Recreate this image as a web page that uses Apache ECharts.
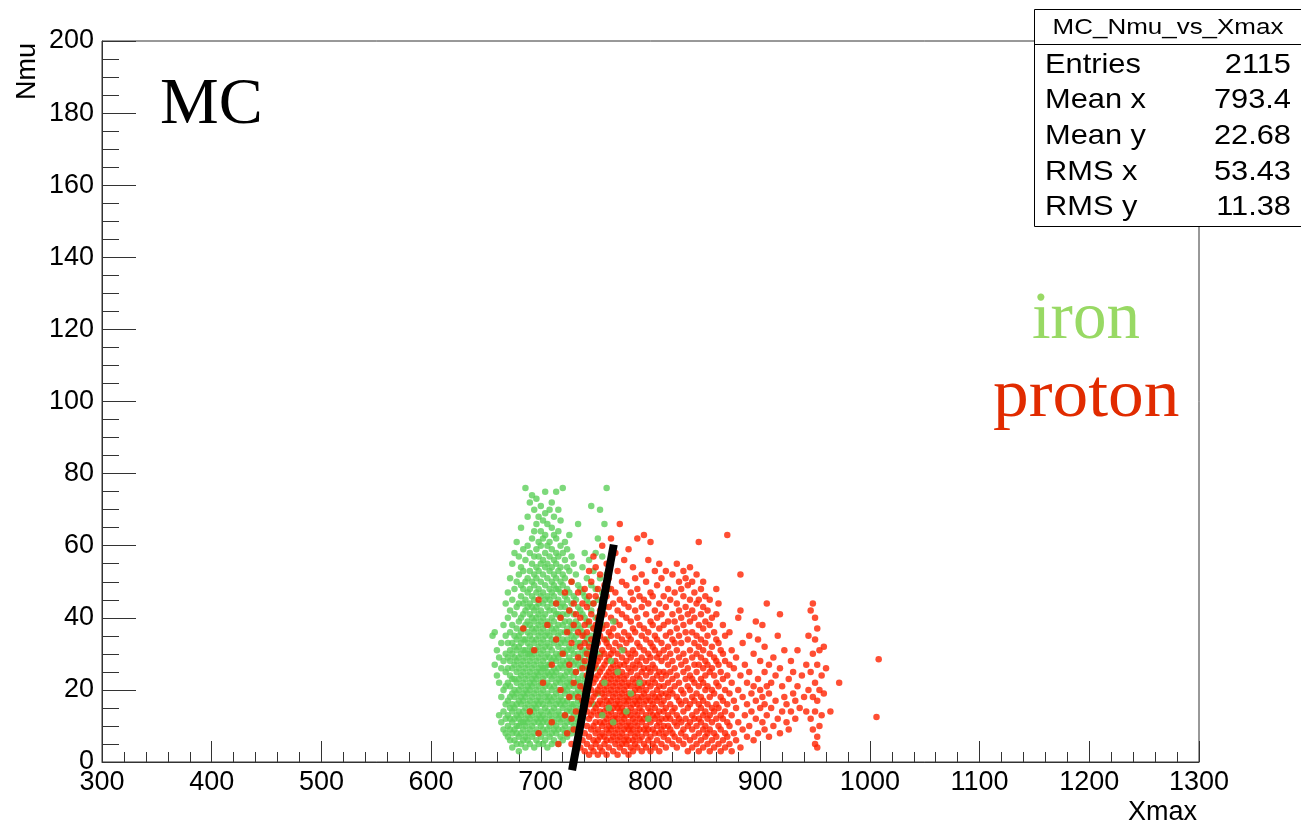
<!DOCTYPE html>
<html>
<head>
<meta charset="utf-8">
<title>MC_Nmu_vs_Xmax</title>
<script src="https://cdn.jsdelivr.net/npm/echarts@6/dist/echarts.min.js"></script>
<style>
  html, body { margin: 0; padding: 0; background: #fff; }
  #chart { width: 1301px; height: 827px; }
</style>
</head>
<body>
<div id="chart"></div>
<script>
// Axis ranges and tick steps
const xRange = [300, 1300];
const xStep = 100;
const yRange = [0, 200];
const yStep = 20;

// Iron showers: columns of [Xmax, [Nmu values...]]
const ironColumns = [
  [656, [35]], [658, [27, 36]], [660, [24, 31]], [662, [13, 22, 29]],
  [664, [11, 18, 26, 33]], [666, [9, 14, 20, 28, 38]],
  [668, [8, 12, 16, 21, 25, 30, 35, 44]],
  [670, [7, 10, 13, 17, 22, 26, 29, 33, 40, 47]],
  [672, [6, 9, 12, 15, 18, 21, 24, 28, 31, 36, 42, 51]],
  [674, [4, 8, 11, 14, 16, 19, 23, 26, 30, 33, 38, 45, 55]],
  [676, [6, 9, 12, 15, 18, 20, 23, 27, 29, 32, 35, 41, 48, 58]],
  [678, [5, 8, 10, 13, 16, 19, 22, 25, 28, 31, 34, 37, 43, 50, 61]],
  [680, [3, 7, 10, 12, 14, 17, 20, 23, 26, 29, 32, 35, 39, 44, 52, 57]],
  [682, [5, 8, 11, 13, 16, 18, 21, 24, 27, 30, 33, 36, 40, 46, 49, 54, 65]],
  [684, [6, 9, 11, 14, 17, 19, 22, 25, 28, 31, 34, 37, 41, 44, 48, 53, 59]],
  [686, [4, 7, 10, 12, 15, 18, 20, 23, 26, 29, 31, 34, 38, 42, 45, 50, 56, 76]],
  [688, [6, 8, 11, 13, 16, 19, 21, 24, 27, 30, 33, 36, 39, 43, 47, 51, 60, 68]],
  [690, [5, 9, 12, 14, 17, 20, 22, 25, 28, 30, 32, 35, 38, 41, 44, 48, 53, 58, 72]],
  [692, [7, 10, 13, 15, 18, 21, 23, 26, 29, 31, 34, 37, 40, 43, 46, 50, 55, 62, 74]],
  [694, [4, 8, 11, 14, 16, 19, 22, 24, 27, 30, 33, 36, 39, 42, 45, 49, 52, 57, 64, 70]],
  [696, [6, 9, 12, 15, 17, 20, 23, 25, 28, 31, 34, 37, 40, 43, 47, 51, 54, 59, 66, 73]],
  [698, [5, 8, 11, 13, 16, 18, 21, 24, 26, 29, 32, 35, 38, 41, 44, 48, 53, 57, 61, 68]],
  [700, [7, 10, 12, 14, 17, 19, 22, 25, 27, 30, 33, 36, 39, 42, 46, 50, 55, 60, 64, 71]],
  [702, [5, 9, 11, 13, 16, 20, 23, 26, 28, 31, 34, 37, 40, 44, 47, 52, 56, 62, 67]],
  [704, [6, 8, 12, 15, 18, 21, 24, 26, 29, 32, 35, 38, 41, 45, 49, 54, 58, 63, 69, 75]],
  [706, [4, 9, 11, 14, 17, 19, 22, 25, 27, 30, 33, 36, 39, 43, 46, 51, 55, 60, 66]],
  [708, [7, 10, 13, 16, 18, 21, 24, 27, 29, 32, 35, 38, 42, 45, 48, 53, 57, 61, 70]],
  [710, [5, 8, 12, 14, 17, 20, 23, 25, 28, 31, 34, 37, 40, 44, 47, 50, 54, 59, 65, 72]],
  [712, [6, 9, 11, 15, 18, 21, 24, 26, 29, 33, 36, 39, 42, 46, 49, 52, 56, 63, 68]],
  [714, [8, 10, 13, 16, 19, 22, 25, 28, 30, 34, 37, 41, 44, 48, 51, 55, 58, 62, 75]],
  [716, [5, 9, 12, 14, 17, 20, 23, 26, 29, 32, 35, 38, 41, 45, 48, 53, 57, 64, 70]],
  [718, [7, 11, 13, 16, 18, 22, 24, 27, 30, 33, 36, 40, 43, 47, 50, 54, 60, 67]],
  [720, [6, 9, 12, 15, 17, 20, 23, 26, 28, 31, 34, 38, 41, 44, 49, 52, 58, 76]],
  [722, [8, 10, 13, 16, 19, 21, 24, 27, 30, 33, 36, 39, 43, 46, 51, 56, 61]],
  [724, [7, 11, 14, 17, 20, 22, 25, 28, 31, 34, 37, 41, 45, 48, 54, 59]],
  [726, [9, 12, 15, 18, 21, 23, 26, 29, 32, 36, 39, 42, 47, 53, 63]],
  [728, [8, 11, 14, 16, 19, 22, 25, 28, 31, 35, 38, 44, 50, 57]],
  [730, [10, 13, 16, 18, 21, 24, 27, 30, 34, 37, 41, 46, 55]],
  [732, [9, 12, 15, 19, 22, 25, 28, 32, 35, 39, 45, 52]],
  [734, [11, 14, 17, 20, 23, 27, 30, 33, 38, 43, 49, 66]],
  [736, [13, 16, 19, 22, 26, 29, 33, 37, 42, 48]],
  [738, [12, 17, 21, 24, 28, 31, 36, 41, 47, 54]],
  [740, [15, 19, 23, 27, 30, 35, 40, 46, 58]],
  [742, [18, 22, 26, 31, 34, 39, 45, 51]],
  [744, [21, 25, 29, 33, 38, 44, 56]],
  [746, [24, 30, 35, 42, 49, 71]],
  [748, [16, 28, 37, 44, 53]],
  [750, [26, 33, 40, 48, 58]],
  [752, [19, 36, 45, 62]],
  [754, [30, 41, 51, 70]],
  [756, [38, 47, 57]],
  [758, [43, 66]],
  [760, [34, 52, 76]],
  [762, [48]],
  [764, [56]]
];

// Iron showers that sit inside the proton cloud (drawn over it)
const ironOverlapColumns = [
  [756, [13]], [758, [22]], [762, [15]], [764, [28]], [766, [11, 39]],
  [770, [25]], [774, [31]], [778, [14]], [782, [19]], [790, [22]], [798, [12]]
];

// Proton showers: columns of [Xmax, [Nmu values...]]
const protonColumns = [
  [684, [37]], [690, [14]], [694, [31]], [698, [8, 45]], [702, [22]],
  [706, [38]], [710, [11, 27]], [714, [34, 44]], [716, [5]], [718, [20, 40]],
  [720, [30]], [722, [13, 47]], [724, [8, 36]], [726, [18, 27, 42]],
  [728, [5, 12, 33, 50]], [730, [9, 22, 38, 44]], [732, [3, 14, 25, 41]],
  [734, [7, 18, 29, 36, 47]], [736, [4, 10, 21, 32, 40]],
  [738, [6, 13, 17, 26, 35, 44]], [740, [3, 8, 15, 20, 28, 33, 38, 48]],
  [742, [5, 10, 14, 19, 24, 30, 36, 43]],
  [744, [2, 7, 12, 16, 21, 26, 32, 39, 46, 53]],
  [746, [4, 9, 13, 17, 20, 24, 29, 34, 41, 50]],
  [748, [3, 6, 10, 14, 18, 22, 26, 31, 37, 44, 57]],
  [750, [5, 8, 11, 15, 19, 23, 27, 32, 38, 46, 54]],
  [752, [2, 6, 9, 13, 16, 20, 24, 28, 33, 40, 48]],
  [754, [4, 7, 11, 14, 17, 21, 25, 29, 35, 42, 52]],
  [756, [3, 8, 10, 13, 16, 19, 22, 26, 31, 37, 45, 60]],
  [758, [5, 7, 11, 14, 18, 20, 23, 27, 30, 34, 41, 49]],
  [760, [2, 6, 9, 12, 15, 17, 21, 24, 28, 33, 38, 46, 55]],
  [762, [4, 8, 10, 13, 16, 19, 22, 25, 29, 32, 36, 43, 51]],
  [764, [6, 9, 11, 14, 17, 20, 23, 26, 30, 35, 40, 48, 62]],
  [766, [3, 7, 10, 12, 15, 18, 21, 24, 27, 31, 37, 44]],
  [768, [5, 8, 11, 13, 16, 19, 22, 25, 28, 33, 39, 47, 58]],
  [770, [2, 6, 9, 12, 15, 17, 20, 23, 26, 30, 35, 42, 53]],
  [772, [4, 7, 10, 14, 16, 18, 21, 24, 27, 32, 38, 45, 66]],
  [774, [5, 8, 11, 13, 15, 19, 22, 25, 29, 34, 41, 50]],
  [776, [3, 6, 9, 12, 14, 17, 20, 23, 27, 31, 36, 44, 56]],
  [778, [5, 7, 10, 13, 16, 18, 21, 24, 28, 33, 40, 49]],
  [780, [2, 6, 9, 11, 14, 17, 19, 22, 26, 30, 35, 43, 59]],
  [782, [4, 8, 10, 13, 15, 18, 21, 25, 29, 34, 39, 47]],
  [784, [3, 6, 9, 12, 16, 19, 23, 27, 31, 37, 45, 54]],
  [786, [5, 7, 11, 14, 17, 20, 22, 26, 30, 36, 42, 51]],
  [788, [4, 8, 10, 13, 16, 18, 21, 24, 28, 33, 40, 48, 62]],
  [790, [6, 9, 12, 15, 17, 20, 23, 27, 32, 38, 46]],
  [792, [3, 7, 11, 14, 18, 21, 25, 29, 35, 43, 52]],
  [794, [5, 9, 12, 16, 19, 22, 26, 31, 37, 45, 63]],
  [796, [4, 8, 10, 13, 17, 20, 24, 28, 34, 41, 50]],
  [798, [6, 9, 12, 15, 18, 22, 26, 30, 36, 44, 56]],
  [800, [3, 7, 11, 14, 17, 21, 25, 29, 33, 39, 47, 61]],
  [802, [5, 9, 13, 16, 19, 23, 27, 32, 38, 46]],
  [804, [4, 8, 12, 15, 18, 22, 26, 31, 35, 42, 53]],
  [806, [6, 10, 13, 17, 20, 24, 29, 34, 40, 49]],
  [808, [3, 8, 11, 14, 18, 21, 25, 30, 37, 44, 55]],
  [810, [5, 9, 12, 16, 19, 23, 28, 33, 41, 51]],
  [812, [7, 10, 14, 17, 21, 25, 31, 38, 46]],
  [814, [4, 8, 12, 15, 19, 24, 29, 35, 43, 53]],
  [816, [6, 10, 13, 18, 22, 27, 32, 39, 48]],
  [818, [9, 12, 16, 20, 25, 30, 36, 45]],
  [820, [5, 8, 14, 19, 23, 28, 34, 41, 52]],
  [822, [7, 11, 15, 21, 26, 33, 39, 47]],
  [824, [4, 10, 13, 18, 24, 31, 37, 44, 55]],
  [826, [6, 12, 17, 22, 29, 35, 42, 50]],
  [828, [8, 11, 16, 20, 27, 33, 40, 48]],
  [830, [5, 9, 14, 19, 25, 30, 38, 46, 53]],
  [832, [7, 12, 17, 23, 28, 36, 43, 51]],
  [834, [3, 10, 15, 21, 26, 34, 41, 49]],
  [836, [6, 11, 16, 20, 24, 31, 39, 45, 54]],
  [838, [4, 9, 13, 18, 23, 29, 36, 42, 50]],
  [840, [7, 12, 17, 22, 27, 33, 40, 47]],
  [842, [5, 10, 14, 19, 25, 30, 35, 44, 52]],
  [844, [3, 8, 12, 16, 21, 27, 32, 38, 45, 61]],
  [846, [6, 11, 15, 18, 23, 29, 34, 41, 48]],
  [848, [4, 9, 13, 17, 22, 26, 31, 37, 43, 50]],
  [850, [7, 10, 14, 20, 24, 28, 33, 39, 46]],
  [852, [5, 8, 12, 16, 21, 27, 35, 42]],
  [854, [3, 9, 13, 18, 25, 30, 38, 45]],
  [856, [6, 11, 15, 20, 26, 32, 40]],
  [858, [4, 8, 14, 19, 24, 29, 36]],
  [860, [7, 12, 16, 22, 28, 34, 41, 48]],
  [862, [5, 10, 15, 21, 27, 33, 44]],
  [864, [3, 9, 13, 18, 25, 31]],
  [866, [6, 12, 17, 23, 30, 38]],
  [868, [4, 8, 14, 20, 28, 35]],
  [870, [7, 11, 16, 24, 63]],
  [872, [5, 10, 19, 27, 36]],
  [874, [3, 13, 22, 31]],
  [876, [8, 17, 26]],
  [878, [6, 15, 29]],
  [880, [11, 20, 40]],
  [882, [4, 24, 42, 52]],
  [884, [9, 18, 33]],
  [886, [13, 27]],
  [888, [7, 16, 22]],
  [890, [10, 25, 35]],
  [892, [14, 19]],
  [894, [6, 21, 30]],
  [896, [12, 17, 39]],
  [898, [8, 23, 34]],
  [900, [15, 20, 28]],
  [902, [11, 18, 38]],
  [904, [9, 16, 25, 32]],
  [906, [13, 21, 44]],
  [908, [7, 19, 27]],
  [910, [15, 22]],
  [912, [10, 29]],
  [914, [17, 24]],
  [916, [12, 35]],
  [918, [8, 26, 41]],
  [920, [14, 21]],
  [922, [18, 31]],
  [924, [11, 16]],
  [926, [9, 23]],
  [928, [14, 28]],
  [930, [19, 25]],
  [932, [12, 17]],
  [934, [21, 31]],
  [936, [15]], [938, [24]], [940, [18]], [942, [14, 27]], [944, [20, 35]],
  [946, [12, 25, 42]],
  [948, [9, 18, 30, 44]],
  [950, [5, 14, 22, 34, 40]],
  [952, [4, 7, 17, 27, 37]],
  [954, [10, 20, 31]],
  [956, [13, 24]],
  [958, [19, 32]],
  [960, [26]], [964, [14]], [972, [22]], [1006, [12.5]], [1008, [28.5]]
];

// Separation cut between iron-like and proton-like showers
const cutLine = [[728.5, -2.3], [766.5, 60.3]];

// Statistics box content
const statsTitle = 'MC_Nmu_vs_Xmax';
const statsRows = [
  ['Entries', '2115'],
  ['Mean x', '793.4'],
  ['Mean y', '22.68'],
  ['RMS x', '53.43'],
  ['RMS y', '11.38']
];

function expand(cols) {
  const pts = [];
  cols.forEach(([x, ys]) => ys.forEach(y => pts.push([x, y])));
  return pts;
}

const SANS = "'Liberation Sans', Arial, sans-serif";
const SERIF = "'Liberation Serif', 'Times New Roman', serif";
const IRON = '#5ccf5a';
const PROTON = '#ff2200';
const DOT = 6.5;

const chart = echarts.init(document.getElementById('chart'), null, { renderer: 'canvas' });

const statsGraphics = [
  {
    type: 'rect', z: 100,
    shape: { x: 1034.5, y: 9.5, width: 270, height: 217 },
    style: { fill: '#fff', stroke: '#000', lineWidth: 1 }
  },
  {
    type: 'line', z: 101,
    shape: { x1: 1034.5, y1: 44.5, x2: 1301, y2: 44.5 },
    style: { stroke: '#000', lineWidth: 1 }
  },
  {
    type: 'text', z: 101, x: 1168, y: 28, scaleX: 1.18, scaleY: 1,
    style: { text: statsTitle, font: '22px ' + SANS, fill: '#000', align: 'center', verticalAlign: 'middle' }
  }
];
statsRows.forEach((row, i) => {
  const cy = 65 + i * 35.6;
  statsGraphics.push({
    type: 'text', z: 101, x: 1045, y: cy, scaleX: 1.1,
    style: { text: row[0], font: '28px ' + SANS, fill: '#000', align: 'left', verticalAlign: 'middle' }
  });
  statsGraphics.push({
    type: 'text', z: 101, x: 1291, y: cy, scaleX: 1.1,
    style: { text: row[1], font: '28px ' + SANS, fill: '#000', align: 'right', verticalAlign: 'middle' }
  });
});

const option = {
  animation: false,
  backgroundColor: '#fff',
  grid: {
    left: 102, right: 102, top: 41, bottom: 65,
    show: true, borderColor: '#333', borderWidth: 1, backgroundColor: 'transparent'
  },
  xAxis: {
    type: 'value',
    min: xRange[0], max: xRange[1], interval: xStep,
    axisLine: { onZero: false, lineStyle: { color: '#333', width: 1 } },
    axisTick: { inside: true, length: 21, lineStyle: { color: '#333' } },
    minorTick: { show: true, splitNumber: 5, length: 10, lineStyle: { color: '#333' } },
    splitLine: { show: false },
    axisLabel: {
      color: '#000', fontFamily: 'Liberation Sans', fontSize: 27, margin: 7,
      formatter: v => String(v)
    }
  },
  yAxis: {
    type: 'value',
    min: yRange[0], max: yRange[1], interval: yStep,
    axisLine: { show: true, onZero: false, lineStyle: { color: '#333', width: 1 } },
    axisTick: { show: true, inside: true, length: 34, lineStyle: { color: '#333' } },
    minorTick: { show: true, splitNumber: 4, length: 17, lineStyle: { color: '#333' } },
    splitLine: { show: false },
    axisLabel: {
      color: '#000', fontFamily: 'Liberation Sans', fontSize: 27, margin: 8,
      formatter: v => String(v)
    }
  },
  series: [
    {
      name: 'iron', type: 'scatter', data: expand(ironColumns),
      symbol: 'circle', symbolSize: DOT, large: false,
      itemStyle: { color: IRON }, z: 2
    },
    {
      name: 'proton', type: 'scatter', data: expand(protonColumns),
      symbol: 'circle', symbolSize: DOT, large: false,
      itemStyle: { color: PROTON }, z: 3
    },
    {
      name: 'iron', type: 'scatter', data: expand(ironOverlapColumns),
      symbol: 'circle', symbolSize: DOT,
      itemStyle: { color: IRON }, z: 4
    },
    {
      name: 'cut', type: 'line', data: cutLine, clip: false,
      symbol: 'none', lineStyle: { color: '#000', width: 8, cap: 'butt' }, z: 5
    }
  ],
  graphic: [
    {
      type: 'text', x: 160, y: 73,
      style: { text: 'MC', font: '66px ' + SERIF, fill: '#000', align: 'left', verticalAlign: 'top' }
    },
    {
      type: 'text', x: 1032, y: 287,
      style: { text: 'iron', font: '67px ' + SERIF, fill: '#98d964', align: 'left', verticalAlign: 'top' }
    },
    {
      type: 'text', x: 993, y: 364, scaleX: 1.05,
      style: { text: 'proton', font: '68px ' + SERIF, fill: '#e12b00', align: 'left', verticalAlign: 'top' }
    },
    {
      type: 'text', x: 14, y: 100, rotation: Math.PI / 2,
      style: { text: 'Nmu', font: '27px ' + SANS, fill: '#000', align: 'left', verticalAlign: 'top' }
    },
    {
      type: 'text', x: 1197, y: 813,
      style: { text: 'Xmax', font: '27px ' + SANS, fill: '#000', align: 'right', verticalAlign: 'middle' }
    }
  ].concat(statsGraphics)
};

chart.setOption(option);
</script>
</body>
</html>
